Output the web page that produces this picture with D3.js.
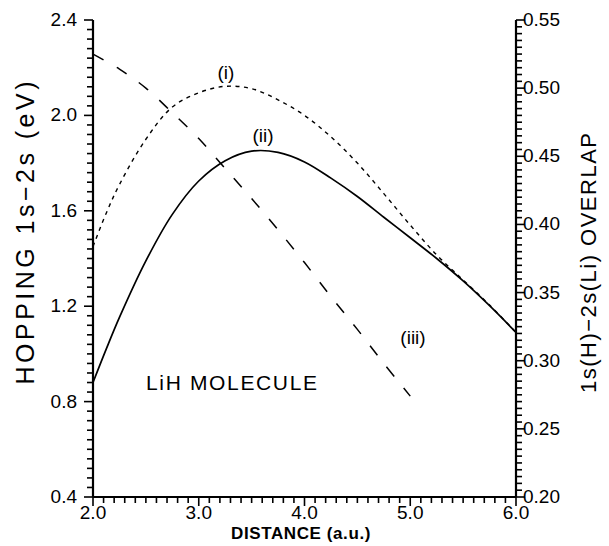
<!DOCTYPE html>
<html>
<head>
<meta charset="utf-8">
<script src="https://cdn.jsdelivr.net/npm/d3@7"></script>
<style>
  html, body { margin: 0; padding: 0; background: #fff; }
  svg { display: block; }
  text { font-family: "Liberation Sans", Arial, Helvetica, sans-serif; fill: #000; }
</style>
</head>
<body>
<svg id="chart" width="609" height="546"></svg>
<script>
// Interatomic distance grid (a.u.) for the hopping curves
const distance = [2.0, 2.125, 2.25, 2.5, 2.75, 3.0, 3.25, 3.5, 3.75, 4.0, 4.25, 4.5, 4.75, 5.0, 5.25, 5.5, 5.75, 6.0];
// (i) hopping 1s-2s, eV (dotted)
const hoppingI = [1.45, 1.59, 1.71, 1.90, 2.035, 2.095, 2.122, 2.112, 2.065, 2.00, 1.91, 1.80, 1.672, 1.54, 1.415, 1.31, 1.205, 1.09];
// (ii) hopping 1s-2s, eV (solid)
const hoppingII = [0.88, 1.02, 1.153, 1.39, 1.585, 1.725, 1.81, 1.85, 1.845, 1.805, 1.737, 1.66, 1.573, 1.487, 1.40, 1.306, 1.202, 1.09];
// (iii) 1s(H)-2s(Li) overlap (dashed, right axis)
const overlapDistance = [2.0, 2.25, 2.5, 2.75, 3.0, 3.25, 3.5, 3.75, 4.0, 4.25, 4.5, 4.75, 5.0];
const overlapIII = [0.525, 0.514, 0.500, 0.482, 0.463, 0.441, 0.419, 0.396, 0.372, 0.347, 0.323, 0.298, 0.274];

// Axis tick labels
const xTicks = [2.0, 3.0, 4.0, 5.0, 6.0];
const yLeftTicks = [0.4, 0.8, 1.2, 1.6, 2.0, 2.4];
const yRightTicks = [0.20, 0.25, 0.30, 0.35, 0.40, 0.45, 0.50, 0.55];

const svg = d3.select("#chart");
const L = 93, R = 516, T = 20, B = 497;

const x = d3.scaleLinear().domain([2, 6]).range([L, R]);
const yL = d3.scaleLinear().domain([0.4, 2.4]).range([B, T]);
const yR = d3.scaleLinear().domain([0.2, 0.55]).range([B, T]);

const axisG = svg.append("g").attr("stroke", "#000").attr("stroke-width", 1.6).attr("fill", "none");

// Minor + major ticks
const xMinor = d3.range(0, 41).map(i => 2 + i * 0.1);
const yLMinor = d3.range(0, 51).map(i => 0.4 + i * 0.04);
const yRMinor = d3.range(0, 71).map(i => 0.2 + i * 0.005);
const isMajor = (v, step) => Math.abs(v / step - Math.round(v / step)) < 1e-6;

xMinor.forEach(v => {
  const len = isMajor(v, 1) ? 9 : 6;
  axisG.append("line").attr("x1", x(v)).attr("x2", x(v)).attr("y1", B).attr("y2", B + len);
});
yLMinor.forEach(v => {
  const len = isMajor(v, 0.4) ? 9 : 6;
  axisG.append("line").attr("x1", L).attr("x2", L - len).attr("y1", yL(v)).attr("y2", yL(v));
});
yRMinor.forEach(v => {
  const len = isMajor(v, 0.05) ? 9 : 6;
  axisG.append("line").attr("x1", R).attr("x2", R + len).attr("y1", yR(v)).attr("y2", yR(v));
});

// Frame lines (left, bottom, right)
axisG.append("line").attr("x1", L).attr("x2", L).attr("y1", T).attr("y2", B).attr("stroke-width", 2.2);
axisG.append("line").attr("x1", L).attr("x2", R).attr("y1", B).attr("y2", B).attr("stroke-width", 2.2);
axisG.append("line").attr("x1", R).attr("x2", R).attr("y1", T).attr("y2", B).attr("stroke-width", 2.2);

// Tick labels
svg.append("g").selectAll("text").data(xTicks).join("text")
  .attr("x", d => x(d)).attr("y", 519).attr("text-anchor", "middle")
  .attr("font-size", 19).text(d => d.toFixed(1));
svg.append("g").selectAll("text").data(yLeftTicks).join("text")
  .attr("x", 77).attr("y", d => yL(d) + 6).attr("text-anchor", "end")
  .attr("font-size", 19).text(d => d.toFixed(1));
svg.append("g").selectAll("text").data(yRightTicks).join("text")
  .attr("x", 523).attr("y", d => yR(d) + 6).attr("text-anchor", "start")
  .attr("font-size", 19).text(d => d.toFixed(2));

// Axis titles
svg.append("text").attr("x", 301).attr("y", 539).attr("text-anchor", "middle")
  .attr("font-size", 17).attr("font-weight", "bold").attr("letter-spacing", 0.6)
  .text("DISTANCE  (a.u.)");
svg.append("text").attr("transform", "translate(34,233) rotate(-90)")
  .attr("text-anchor", "middle").attr("font-size", 25)
  .attr("textLength", 303).attr("lengthAdjust", "spacing")
  .text("HOPPING  1s\u22122s  (eV)");
svg.append("text").attr("transform", "translate(596,263) rotate(-90)")
  .attr("text-anchor", "middle").attr("font-size", 22)
  .attr("textLength", 260).attr("lengthAdjust", "spacing")
  .text("1s(H)\u22122s(Li)  OVERLAP");

// Curves
const lineL = d3.line().x(d => x(d[0])).y(d => yL(d[1])).curve(d3.curveCatmullRom.alpha(0.5));
const lineR = d3.line().x(d => x(d[0])).y(d => yR(d[1])).curve(d3.curveCatmullRom.alpha(0.5));

svg.append("path").datum(d3.zip(distance, hoppingI))
  .attr("d", lineL).attr("fill", "none").attr("stroke", "#000")
  .attr("stroke-width", 1.4).attr("stroke-dasharray", "4,4.5");
svg.append("path").datum(d3.zip(distance, hoppingII))
  .attr("d", lineL).attr("fill", "none").attr("stroke", "#000")
  .attr("stroke-width", 1.7);
svg.append("path").datum(d3.zip(overlapDistance, overlapIII))
  .attr("d", lineR).attr("fill", "none").attr("stroke", "#000")
  .attr("stroke-width", 1.5).attr("stroke-dasharray", "12,15");

// Curve labels
svg.append("text").attr("x", 226).attr("y", 79).attr("text-anchor", "middle")
  .attr("font-size", 19).text("(i)");
svg.append("text").attr("x", 263).attr("y", 142).attr("text-anchor", "middle")
  .attr("font-size", 19).text("(ii)");
svg.append("text").attr("x", 413).attr("y", 344).attr("text-anchor", "middle")
  .attr("font-size", 19).text("(iii)");
svg.append("text").attr("x", 146).attr("y", 390).attr("text-anchor", "start")
  .attr("font-size", 21).attr("textLength", 171).attr("lengthAdjust", "spacing")
  .text("LiH  MOLECULE");
</script>
</body>
</html>
